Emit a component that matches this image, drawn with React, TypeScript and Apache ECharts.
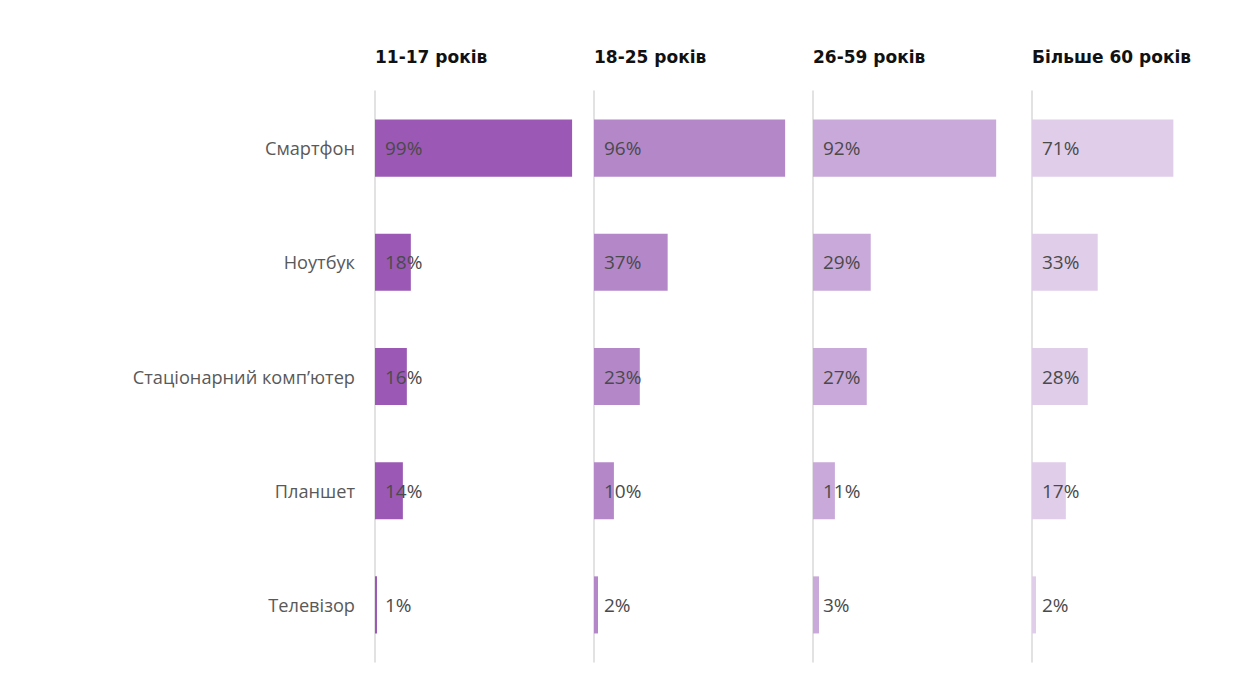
import React, { useEffect, useRef } from "react";
import * as echarts from "echarts";

const categories = ["Смартфон", "Ноутбук", "Стаціонарний комп’ютер", "Планшет", "Телевізор"];
const groups = ["11-17 років", "18-25 років", "26-59 років", "Більше 60 років"];
const values11_17 = [99, 18, 16, 14, 1];
const values18_25 = [96, 37, 23, 10, 2];
const values26_59 = [92, 29, 27, 11, 3];
const values60plus = [71, 33, 28, 17, 2];
const seriesValues = [values11_17, values18_25, values26_59, values60plus];
const colors = ["#9b59b5", "#b487c9", "#c9a9da", "#e0cde9"];

export default function App() {
  const ref = useRef<HTMLDivElement>(null);
  useEffect(() => {
    if (!ref.current) return;
    const chart = echarts.init(ref.current, null, { renderer: "svg" });
    const panelLeft = 375;
    const panelW = 219;
    const grids = groups.map((_, i) => ({
      left: panelLeft + panelW * i,
      width: panelW,
      top: 91,
      height: 571,
      containLabel: false,
    }));
    const xAxes = groups.map((_, i) => ({
      type: "value" as const,
      gridIndex: i,
      min: 0,
      max: 110,
      show: false,
    }));
    const yAxes = groups.map((_, i) => ({
      type: "category" as const,
      gridIndex: i,
      data: categories,
      inverse: true,
      axisLine: { show: true, lineStyle: { color: "#d9d9d9", width: 1.5 } },
      axisTick: { show: false },
      axisLabel: {
        show: i === 0,
        margin: 20,
        color: "#595959",
        fontFamily: "Open Sans",
        fontSize: 18.2,
      },
      splitLine: { show: false },
    }));
    const series = groups.map((g, i) => ({
      type: "bar" as const,
      name: g,
      xAxisIndex: i,
      yAxisIndex: i,
      data: seriesValues[i],
      barWidth: "50%",
      itemStyle: { color: colors[i] },
      label: {
        show: true,
        position: "insideLeft" as const,
        distance: 10,
        formatter: "{c}%",
        color: "#4a4a4a",
        fontFamily: "Open Sans",
        fontSize: 19,
      },
    }));
    const titles = groups.map((g, i) => ({
      text: g,
      left: panelLeft + panelW * i,
      top: 48,
      padding: 0,
      textStyle: {
        fontFamily: "DejaVu Sans",
        fontWeight: "bold" as const,
        fontSize: 17,
        color: "#111111",
      },
    }));
    chart.setOption({
      animation: false,
      backgroundColor: "#ffffff",
      title: titles,
      grid: grids,
      xAxis: xAxes,
      yAxis: yAxes,
      series,
    });
    return () => chart.dispose();
  }, []);
  return (
    <div
      ref={ref}
      style={{ position: "absolute", left: 0, top: 0, width: 1255, height: 678 }}
    />
  );
}
